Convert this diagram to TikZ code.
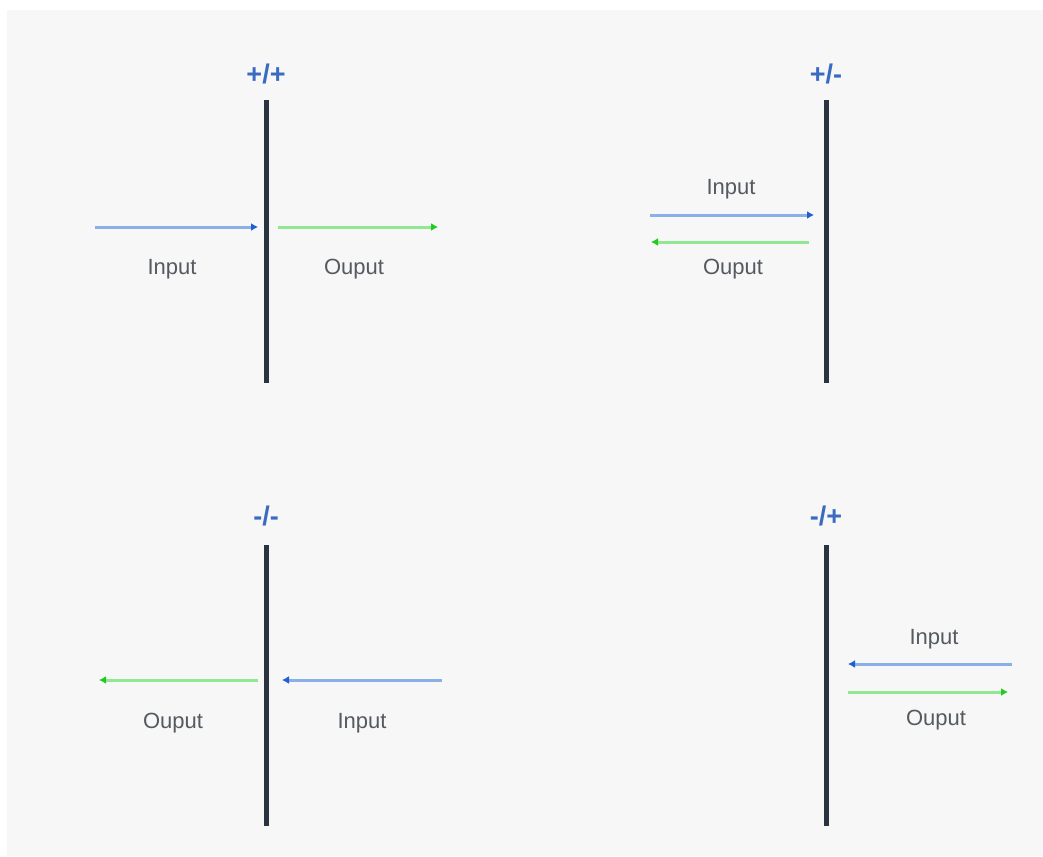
\documentclass[tikz,border=0pt]{standalone}
\usepackage{fontspec}
\setmainfont{Liberation Sans}
\usetikzlibrary{arrows.meta,positioning,calc}

\definecolor{bgray}{HTML}{F7F7F7}
\definecolor{barcol}{HTML}{2B3240}
\definecolor{signcol}{HTML}{3A6BC0}
\definecolor{inline}{HTML}{8AB0E8}
\definecolor{intip}{HTML}{1F5FD0}
\definecolor{outline}{HTML}{92E892}
\definecolor{outtip}{HTML}{1FCC1F}
\definecolor{txtcol}{HTML}{555A60}

\tikzset{
  bar/.style={line width=5pt, barcol},
  sign/.style={text=signcol, font=\fontsize{27}{29}\selectfont\bfseries},
  lbl/.style={text=txtcol, font=\fontsize{22}{24}\selectfont},
  inarrow/.style={line width=3pt, inline, -{Latex[length=7pt,width=8pt,color=intip]}},
  outarrow/.style={line width=3pt, outline, -{Latex[length=7pt,width=8pt,color=outtip]}}
}

\begin{document}
\begin{tikzpicture}[x=1pt, y=-1pt]
  \useasboundingbox (0,0) rectangle (1043,856);
  \fill[bgray] (7,10) rectangle (1043,856);

  % +/+
  \coordinate (b1t) at (266,100); \coordinate (b1b) at (266,383);
  \draw[bar] (b1t) -- (b1b);
  \node[sign] (s1) at (266,74) {+/+};
  \coordinate (i1s) at (95,227); \coordinate (i1e) at (258,227);
  \coordinate (o1s) at (278,227); \coordinate (o1e) at (438,227);
  \draw[inarrow] (i1s) -- (i1e);
  \draw[outarrow] (o1s) -- (o1e);
  \node[lbl] (li1) at (172,269) {Input};
  \node[lbl] (lo1) at (354,269) {Ouput};

  % +/-
  \coordinate (b2t) at (826,100); \coordinate (b2b) at (826,383);
  \draw[bar] (b2t) -- (b2b);
  \node[sign] (s2) at (826,74) {+/-};
  \coordinate (i2s) at (650,215); \coordinate (i2e) at (814,215);
  \coordinate (o2s) at (809,242); \coordinate (o2e) at (651,242);
  \draw[inarrow] (i2s) -- (i2e);
  \draw[outarrow] (o2s) -- (o2e);
  \node[lbl] (li2) at (731,189) {Input};
  \node[lbl] (lo2) at (733,269) {Ouput};

  % -/-
  \coordinate (b3t) at (266,545); \coordinate (b3b) at (266,826);
  \draw[bar] (b3t) -- (b3b);
  \node[sign] (s3) at (266,516) {-/-};
  \coordinate (o3s) at (258,680); \coordinate (o3e) at (99,680);
  \coordinate (i3s) at (442,680); \coordinate (i3e) at (282,680);
  \draw[outarrow] (o3s) -- (o3e);
  \draw[inarrow] (i3s) -- (i3e);
  \node[lbl] (lo3) at (173,723) {Ouput};
  \node[lbl] (li3) at (362,723) {Input};

  % -/+
  \coordinate (b4t) at (826,545); \coordinate (b4b) at (826,826);
  \draw[bar] (b4t) -- (b4b);
  \node[sign] (s4) at (826,516) {-/+};
  \coordinate (i4s) at (1012,664); \coordinate (i4e) at (848,664);
  \coordinate (o4s) at (848,692); \coordinate (o4e) at (1008,692);
  \draw[inarrow] (i4s) -- (i4e);
  \draw[outarrow] (o4s) -- (o4e);
  \node[lbl] (li4) at (934,639) {Input};
  \node[lbl] (lo4) at (936,720) {Ouput};
\end{tikzpicture}
\end{document}
